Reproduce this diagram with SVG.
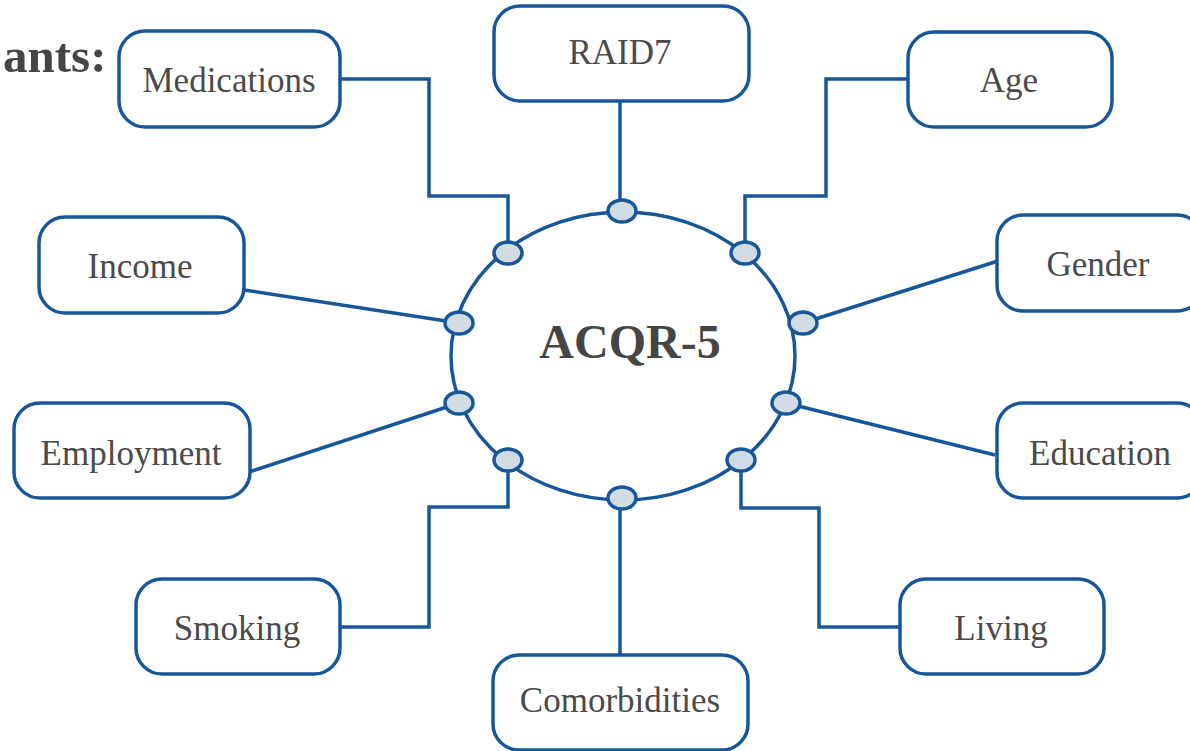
<svg xmlns="http://www.w3.org/2000/svg" width="1190" height="751" viewBox="0 0 1190 751">
<style>
.box{fill:#fff;stroke:#175799;stroke-width:3.5}
.lbl{font-family:"Liberation Serif","DejaVu Serif",serif;font-size:35px;fill:#4a4a4a;text-anchor:middle}
.conn{fill:none;stroke:#175799;stroke-width:3.5}
.port{fill:#d0dbe3;stroke:#175799;stroke-width:3.5}
</style>
<rect width="1190" height="751" fill="#fff"/>
<text x="3" y="72" font-family="'Liberation Serif','DejaVu Serif',serif" font-size="49" font-weight="bold" fill="#454545">ants:</text>
<g id="connectors">
<polyline class="conn" points="340,79 429,79 429,196 508,196 508,253"/>
<line class="conn" x1="620" y1="101" x2="620" y2="211"/>
<polyline class="conn" points="907,79 826,79 826,196 745,196 745,253"/>
<line class="conn" x1="998" y1="261" x2="803" y2="323"/>
<line class="conn" x1="244" y1="290" x2="459" y2="323"/>
<line class="conn" x1="249" y1="472" x2="459" y2="403"/>
<line class="conn" x1="995" y1="455" x2="786" y2="403"/>
<polyline class="conn" points="340,627 429,627 429,507 508,507 508,460"/>
<line class="conn" x1="620" y1="498" x2="620" y2="654"/>
<polyline class="conn" points="899,627 819,627 819,508 741,508 741,460"/>
</g>
<g id="center">
<ellipse cx="623" cy="356" rx="172" ry="144" fill="#fff" stroke="#175799" stroke-width="3.5"/>
<text x="630" y="358" font-family="'Liberation Serif','DejaVu Serif',serif" font-size="48" font-weight="bold" fill="#454545" text-anchor="middle">ACQR-5</text>
<ellipse class="port" cx="622" cy="211" rx="14" ry="11"/>
<ellipse class="port" cx="508" cy="253" rx="14" ry="11"/>
<ellipse class="port" cx="745" cy="253" rx="14" ry="11"/>
<ellipse class="port" cx="459" cy="323" rx="14" ry="11"/>
<ellipse class="port" cx="803" cy="323" rx="14" ry="11"/>
<ellipse class="port" cx="459" cy="403" rx="14" ry="11"/>
<ellipse class="port" cx="786" cy="403" rx="14" ry="11"/>
<ellipse class="port" cx="508" cy="460" rx="14" ry="11"/>
<ellipse class="port" cx="741" cy="460" rx="14" ry="11"/>
<ellipse class="port" cx="622" cy="498" rx="14" ry="11"/>
</g>
<g id="medications"><rect class="box" x="119" y="31" width="221" height="96" rx="26"/><text class="lbl" x="229" y="92">Medications</text></g>
<g id="raid7"><rect class="box" x="494" y="6" width="255" height="95" rx="26"/><text class="lbl" x="620" y="64">RAID7</text></g>
<g id="age"><rect class="box" x="908" y="32" width="204" height="95" rx="26"/><text class="lbl" x="1009" y="92">Age</text></g>
<g id="gender"><rect class="box" x="997" y="215" width="206" height="96" rx="26"/><text class="lbl" x="1098" y="276">Gender</text></g>
<g id="income"><rect class="box" x="39" y="217" width="205" height="96" rx="26"/><text class="lbl" x="140" y="278">Income</text></g>
<g id="employment"><rect class="box" x="14" y="403" width="236" height="95" rx="26"/><text class="lbl" x="131" y="465">Employment</text></g>
<g id="education"><rect class="box" x="997" y="403" width="206" height="95" rx="26"/><text class="lbl" x="1100" y="465">Education</text></g>
<g id="smoking"><rect class="box" x="136" y="579" width="204" height="95" rx="26"/><text class="lbl" x="237" y="640">Smoking</text></g>
<g id="comorbidities"><rect class="box" x="493" y="655" width="255" height="95" rx="26"/><text class="lbl" x="620" y="712">Comorbidities</text></g>
<g id="living"><rect class="box" x="900" y="579" width="204" height="95" rx="26"/><text class="lbl" x="1001" y="640">Living</text></g>
</svg>
